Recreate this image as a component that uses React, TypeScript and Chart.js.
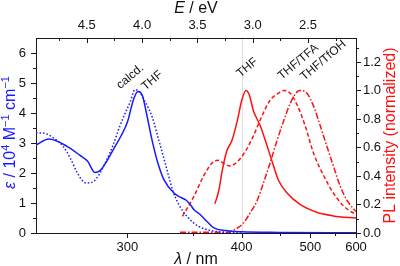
import React, { useEffect, useRef } from 'react';
import { Chart, registerables } from 'chart.js';

Chart.register(...registerables);

// Photon energy conversion: E [eV] = HC / lambda [nm]
const HC = 1239.84;
const nmToEv = (nm: number) => HC / nm;

const WL_MIN = 250;
const WL_MAX = 600;

// Absorption in THF (epsilon / 10^4 M^-1 cm^-1)
const absTHFNm = [250, 256, 265, 272, 276, 280, 283, 287, 291, 296, 300, 304, 307, 310, 313, 317, 321, 326, 334, 340, 344, 348, 351, 357, 363, 370, 382, 400, 450, 600];
const absTHFEps = [2.93, 3.13, 2.89, 2.58, 2.39, 2.02, 2.08, 2.39, 2.78, 3.25, 3.70, 4.44, 4.72, 4.60, 4.00, 3.11, 2.39, 1.78, 1.33, 1.18, 1.10, 0.94, 0.78, 0.61, 0.39, 0.17, 0.08, 0.04, 0.02, 0.01];

// Calculated absorption
const absCalcNm = [250, 253, 258, 263, 267, 270, 273, 275, 278, 281, 287, 291, 295, 299, 302, 305, 308, 312, 317, 322, 327, 333, 338, 345, 355, 366, 382, 400];
const absCalcEps = [3.33, 3.33, 3.18, 2.89, 2.45, 2.05, 1.75, 1.67, 1.68, 1.82, 2.44, 2.95, 3.55, 4.05, 4.39, 4.78, 4.72, 4.38, 3.89, 3.11, 2.33, 1.42, 0.95, 0.55, 0.23, 0.09, 0.02, 0.0];

// Normalized PL spectra
const plTHFNm = [371, 375, 378, 383, 389, 395, 400, 405, 409, 414, 423, 432, 439, 448, 461, 482, 512, 546, 600];
const plTHFInt = [0.205, 0.30, 0.42, 0.57, 0.65, 0.79, 0.93, 1.0, 0.97, 0.86, 0.75, 0.61, 0.50, 0.37, 0.28, 0.20, 0.145, 0.12, 0.105];

const plTFANm = [341, 351, 360, 368, 374, 382, 387, 395, 404, 414, 425, 436, 451, 456, 466, 477, 491, 506, 526, 546, 569, 594, 600];
const plTFAInt = [0.116, 0.257, 0.40, 0.49, 0.51, 0.48, 0.47, 0.50, 0.57, 0.68, 0.82, 0.93, 0.99, 1.0, 0.98, 0.90, 0.75, 0.56, 0.40, 0.28, 0.19, 0.14, 0.135];

const plTfOHNm = [339, 360, 383, 395, 402, 410, 419, 427, 436, 446, 456, 466, 477, 482, 494, 506, 519, 532, 546, 561, 577, 600];
const plTfOHInt = [0.005, 0.005, 0.005, 0.035, 0.07, 0.14, 0.23, 0.35, 0.49, 0.65, 0.79, 0.91, 0.99, 1.0, 0.98, 0.89, 0.75, 0.61, 0.47, 0.33, 0.23, 0.15];

// Axis ticks
const wlTicks = [300, 400, 500, 600];
const wlMinorTicks = [350, 450, 550];
const evTicks = [4.5, 4.0, 3.5, 3.0, 2.5];
const evMinorTicks = [4.75, 4.25, 3.75, 3.25, 2.75, 2.25];
const epsTicks = [0, 1, 2, 3, 4, 5, 6];
const epsMinorTicks = [0.5, 1.5, 2.5, 3.5, 4.5, 5.5];
const plTicks = [0, 0.2, 0.4, 0.6, 0.8, 1.0, 1.2];
const plMinorTicks = [0.1, 0.3, 0.5, 0.7, 0.9, 1.1, 1.3];
const EPS_MAX = 6.5;
const PL_MAX = 1.368;

// Curve labels: text, wavelength, value, axis
const curveLabels: { text: string; nm: number; v: number; axis: 'y' | 'y2' }[] = [
  { text: 'calcd.', nm: 301.8, v: 5.21, axis: 'y' },
  { text: 'THF', nm: 317.2, v: 5.08, axis: 'y' },
  { text: 'THF', nm: 406.5, v: 1.16, axis: 'y2' },
  { text: 'THF/TFA', nm: 479, v: 1.2, axis: 'y2' },
  { text: 'THF/TfOH', nm: 525, v: 1.21, axis: 'y2' },
];

const FONT = '"Liberation Sans", Arial, Helvetica, sans-serif';
const AXIS = '#1a1a1a';
const BLUE = '#1a1aff';
const RED = '#ff1010';

const toPoints = (nm: number[], vals: number[]) => nm.map((w, i) => ({ x: nmToEv(w), y: vals[i] }));

type Seg = { t: string; it?: boolean; sup?: boolean };

function drawRich(ctx: CanvasRenderingContext2D, segs: Seg[], x: number, y: number, angle: number, size: number, color: string) {
  ctx.save();
  ctx.translate(x, y);
  ctx.rotate(angle);
  ctx.fillStyle = color;
  ctx.textBaseline = 'alphabetic';
  ctx.textAlign = 'left';
  const fontOf = (s: Seg) => `${s.it ? 'italic ' : ''}${s.sup ? Math.round(size * 0.68) : size}px ${FONT}`;
  let total = 0;
  for (const s of segs) {
    ctx.font = fontOf(s);
    total += ctx.measureText(s.t).width;
  }
  let cx = -total / 2;
  for (const s of segs) {
    ctx.font = fontOf(s);
    ctx.fillText(s.t, cx, s.sup ? -size * 0.38 : 0);
    cx += ctx.measureText(s.t).width;
  }
  ctx.restore();
}

const decorPlugin = {
  id: 'decor',
  beforeDatasetsDraw(chart: any) {
    const { ctx, chartArea } = chart;
    const xs = chart.scales.x;
    const px = Math.round(xs.getPixelForValue(nmToEv(400))) + 0.5;
    ctx.save();
    ctx.strokeStyle = 'rgba(0,0,0,0.13)';
    ctx.lineWidth = 1;
    ctx.beginPath();
    ctx.moveTo(px, chartArea.top);
    ctx.lineTo(px, chartArea.bottom);
    ctx.stroke();
    ctx.restore();
  },
  afterDraw(chart: any) {
    const { ctx, chartArea } = chart;
    const { left, right, top, bottom } = chartArea;
    const xs = chart.scales.x;
    const ys = chart.scales.y;
    const y2s = chart.scales.y2;
    ctx.save();
    ctx.strokeStyle = AXIS;
    ctx.lineWidth = 1;
    ctx.beginPath();
    const vTick = (xp: number, y0: number, len: number) => {
      const x = Math.round(xp) + 0.5;
      ctx.moveTo(x, y0);
      ctx.lineTo(x, y0 + len);
    };
    const hTick = (yp: number, x0: number, len: number) => {
      const y = Math.round(yp) + 0.5;
      ctx.moveTo(x0, y);
      ctx.lineTo(x0 + len, y);
    };
    wlTicks.forEach((w) => vTick(xs.getPixelForValue(nmToEv(w)), bottom, 5));
    wlMinorTicks.forEach((w) => vTick(xs.getPixelForValue(nmToEv(w)), bottom, 3));
    evTicks.forEach((e) => vTick(xs.getPixelForValue(e), top, 5));
    evMinorTicks.forEach((e) => vTick(xs.getPixelForValue(e), top, 3));
    epsTicks.forEach((v) => hTick(ys.getPixelForValue(v), left, -5));
    epsMinorTicks.forEach((v) => hTick(ys.getPixelForValue(v), left, -3));
    plTicks.forEach((v) => hTick(y2s.getPixelForValue(v), right, 5));
    plMinorTicks.forEach((v) => hTick(y2s.getPixelForValue(v), right, 3));
    ctx.stroke();
    ctx.restore();

    // Curve labels
    ctx.save();
    ctx.fillStyle = '#111';
    ctx.font = `12px ${FONT}`;
    ctx.textAlign = 'center';
    ctx.textBaseline = 'middle';
    curveLabels.forEach((l) => {
      const sx = xs.getPixelForValue(nmToEv(l.nm));
      const sy = (l.axis === 'y' ? ys : y2s).getPixelForValue(l.v);
      ctx.save();
      ctx.translate(sx, sy);
      ctx.rotate((-40 * Math.PI) / 180);
      ctx.fillText(l.text, 0, 0);
      ctx.restore();
    });
    ctx.restore();

    // Axis titles
    const midX = (left + right) / 2;
    const midY = (top + bottom) / 2;
    drawRich(ctx, [{ t: 'E', it: true }, { t: ' / eV' }], midX, 13, 0, 16, '#111');
    drawRich(ctx, [{ t: 'λ', it: true }, { t: ' / nm' }], midX, 264, 0, 16, '#111');
    drawRich(
      ctx,
      [{ t: 'ε', it: true }, { t: ' / 10' }, { t: '4', sup: true }, { t: ' M' }, { t: '−1', sup: true }, { t: ' cm' }, { t: '−1', sup: true }],
      15, midY - 3, -Math.PI / 2, 16, BLUE
    );
    drawRich(ctx, [{ t: 'PL intensity (normalized)' }], 395, midY, -Math.PI / 2, 16, RED);
  },
};

const tickFont = { size: 13, family: FONT };

export default function App() {
  const canvasRef = useRef<HTMLCanvasElement | null>(null);

  useEffect(() => {
    const canvas = canvasRef.current;
    if (!canvas) return;
    const xMin = nmToEv(WL_MAX);
    const xMax = nmToEv(WL_MIN);
    const line = (data: any, color: string, dash: number[], axis: string) => ({
      data,
      borderColor: color,
      backgroundColor: color,
      borderWidth: 1.5,
      borderDash: dash,
      pointRadius: 0,
      fill: false,
      cubicInterpolationMode: 'monotone' as const,
      yAxisID: axis,
    });
    const chart = new Chart(canvas, {
      type: 'line',
      data: {
        datasets: [
          line(toPoints(absCalcNm, absCalcEps), BLUE, [1.5, 2], 'y'),
          line(toPoints(absTHFNm, absTHFEps), BLUE, [], 'y'),
          line(toPoints(plTFANm, plTFAInt), RED, [4, 2.5], 'y2'),
          line(toPoints(plTfOHNm, plTfOHInt), RED, [6, 2, 1.5, 2], 'y2'),
          line(toPoints(plTHFNm, plTHFInt), RED, [], 'y2'),
        ],
      },
      options: {
        responsive: false,
        animation: false,
        parsing: true,
        layout: { padding: 0 },
        plugins: { legend: { display: false }, tooltip: { enabled: false }, title: { display: false } },
        scales: {
          x: {
            type: 'linear',
            position: 'bottom',
            min: xMin,
            max: xMax,
            reverse: true,
            afterBuildTicks: (s: any) => {
              s.ticks = wlTicks.map((w) => ({ value: nmToEv(w) }));
            },
            afterFit: (s: any) => {
              s.height = 33;
            },
            ticks: {
              callback: (v: any) => String(Math.round(HC / Number(v))),
              padding: 7,
              font: tickFont,
              color: '#111',
              maxRotation: 0,
              autoSkip: false,
            },
            grid: { display: false, drawTicks: false },
            border: { display: true, color: AXIS, width: 1 },
          },
          xTop: {
            type: 'linear',
            position: 'top',
            min: xMin,
            max: xMax,
            reverse: true,
            afterBuildTicks: (s: any) => {
              s.ticks = evTicks.map((e) => ({ value: e }));
            },
            afterFit: (s: any) => {
              s.height = 38;
            },
            ticks: {
              callback: (v: any) => Number(v).toFixed(1),
              padding: 5,
              font: tickFont,
              color: '#111',
              maxRotation: 0,
              autoSkip: false,
            },
            grid: { display: false, drawTicks: false },
            border: { display: true, color: AXIS, width: 1 },
          },
          y: {
            type: 'linear',
            position: 'left',
            min: 0,
            max: EPS_MAX,
            afterBuildTicks: (s: any) => {
              s.ticks = epsTicks.map((v) => ({ value: v }));
            },
            afterFit: (s: any) => {
              s.width = 36;
            },
            ticks: { callback: (v: any) => String(v), padding: 10, font: tickFont, color: '#111', autoSkip: false },
            grid: { display: false, drawTicks: false },
            border: { display: true, color: AXIS, width: 1 },
          },
          y2: {
            type: 'linear',
            position: 'right',
            min: 0,
            max: PL_MAX,
            afterBuildTicks: (s: any) => {
              s.ticks = plTicks.map((v) => ({ value: v }));
            },
            afterFit: (s: any) => {
              s.width = 44;
            },
            ticks: { callback: (v: any) => Number(v).toFixed(1), padding: 7, font: tickFont, color: '#111', autoSkip: false },
            grid: { display: false, drawTicks: false },
            border: { display: true, color: AXIS, width: 1 },
          },
        },
      } as any,
      plugins: [decorPlugin],
    });
    return () => chart.destroy();
  }, []);

  return (
    <div style={{ position: 'fixed', left: 0, top: 0, width: 400, height: 266, background: '#fff' }}>
      <canvas ref={canvasRef} width={400} height={266} style={{ display: 'block' }} />
    </div>
  );
}
